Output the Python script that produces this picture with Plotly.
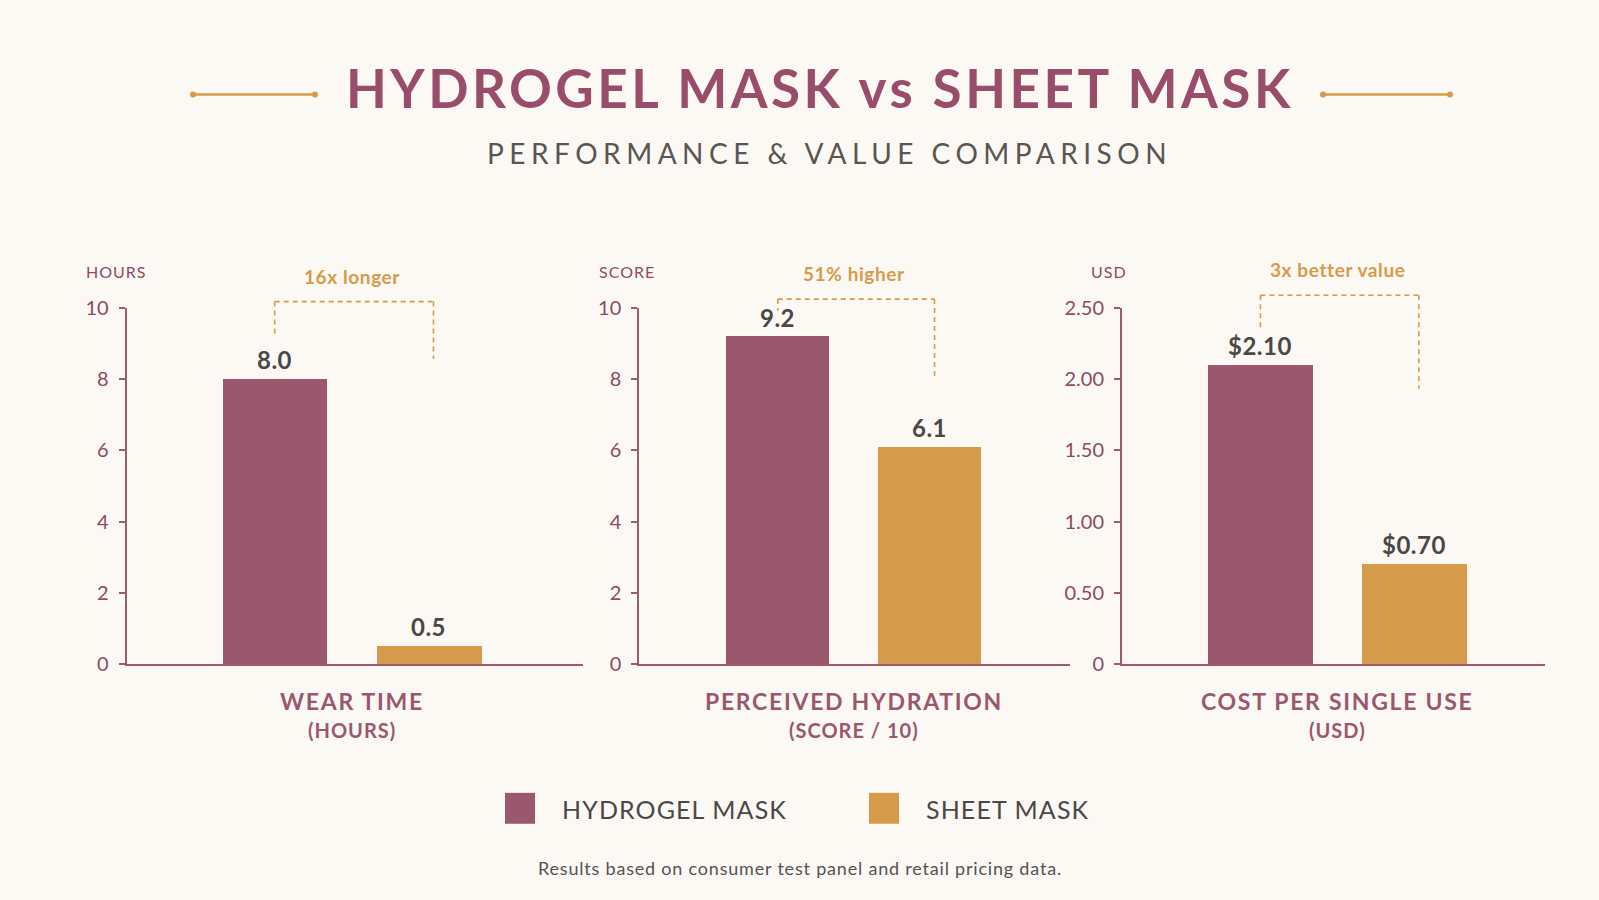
import plotly.graph_objects as go

# ---------------- data ----------------
series_names = ["HYDROGEL MASK", "SHEET MASK"]
categories = ["Hydrogel Mask", "Sheet Mask"]
metric_titles = ["WEAR TIME", "PERCEIVED HYDRATION", "COST PER SINGLE USE"]
metric_units = ["(HOURS)", "(SCORE / 10)", "(USD)"]
axis_units = ["HOURS", "SCORE", "USD"]
wear_time_hours = [8.0, 0.5]
hydration_score = [9.2, 6.1]
cost_per_use_usd = [2.10, 0.70]
callouts = ["16x longer", "51% higher", "3x better value"]
ticks_hours = [0, 2, 4, 6, 8, 10]
ticks_score = [0, 2, 4, 6, 8, 10]
ticks_usd = [0, 0.5, 1.0, 1.5, 2.0, 2.5]
ticks_usd_text = ["0", "0.50", "1.00", "1.50", "2.00", "2.50"]

# ---------------- style ----------------
W, H = 1599, 900
BG = "#fcf9f4"
MAROON = "#9b576e"
GOLD = "#d69b4a"
AXIS = "#9a5a70"
TICKTXT = "#8c4a63"
DARK = "#4a4846"
FONT = "Lato"


def px(x):
    return x / W


def py(y):
    # screen y (px) -> paper fraction
    return 1 - ((y - 11.26) / 0.9757) / H


def sp(text, ls):
    return '<span style="letter-spacing:%spx">%s</span>' % (ls, text)


panels = [
    dict(values=wear_time_hours, fmt="{:.1f}", ymax=10, tickvals=ticks_hours,
         ticktext=[str(t) for t in ticks_hours], dom=(126.7, 583), xr=(-0.96, 2.0),
         bracket=(1.018, 0.927, 0.857), unit_x=84),
    dict(values=hydration_score, fmt="{:.1f}", ymax=10, tickvals=ticks_score,
         ticktext=[str(t) for t in ticks_score], dom=(639.3, 1070), xr=(-0.91, 1.92),
         bracket=(1.025, 0.992, 0.807), unit_x=597),
    dict(values=cost_per_use_usd, fmt="${:.2f}", ymax=2.5, tickvals=ticks_usd,
         ticktext=ticks_usd_text, dom=(1122, 1545), xr=(-0.90, 1.85),
         bracket=(1.036, 0.941, 0.773), unit_x=1089),
]

colors = [MAROON, GOLD]
ydom = [py(664), py(307)]

fig = go.Figure()
shapes = []
annotations = []
layout_axes = {}

for i, p in enumerate(panels):
    n = "" if i == 0 else str(i + 1)
    xa, ya = "x" + n, "y" + n
    fig.add_trace(go.Bar(
        x=categories, y=p["values"], marker=dict(color=colors, line=dict(width=0)),
        width=0.68, xaxis=xa, yaxis=ya, showlegend=False, hoverinfo="x+y",
    ))
    layout_axes["xaxis" + n] = dict(
        domain=[px(p["dom"][0]), px(p["dom"][1])], anchor=ya, type="category",
        range=list(p["xr"]), showticklabels=False, ticks="", showgrid=False,
        zeroline=False, showline=True, linecolor=AXIS, linewidth=2, fixedrange=True,
    )
    layout_axes["yaxis" + n] = dict(
        domain=ydom, anchor=xa, range=[0, p["ymax"]], tickvals=p["tickvals"],
        ticktext=p["ticktext"], showgrid=False, zeroline=False, showline=True,
        linecolor=AXIS, linewidth=2, ticks="outside", ticklen=6, tickwidth=1.5,
        tickcolor=AXIS, tickfont=dict(family=FONT, size=20, color=TICKTXT),
        ticklabelstandoff=6, fixedrange=True,
    )
    # value labels
    for j, v in enumerate(p["values"]):
        annotations.append(dict(
            x=j, y=v, xref=xa, yref=ya, text=sp(p["fmt"].format(v), 0.5), showarrow=False,
            yanchor="bottom", yshift=3,
            font=dict(family=FONT, size=24, color=DARK, weight="bold"),
        ))
    # bracket (in axis-domain fractions)
    top, lft, rgt = p["bracket"]
    yd = ya + " domain"
    dash = dict(color=GOLD, width=1.6, dash="5px,4px")
    shapes.append(dict(type="line", xref=xa, yref=yd, x0=0, x1=1.03, y0=top, y1=top, line=dash))
    shapes.append(dict(type="line", xref=xa, yref=yd, x0=0, x1=0, y0=top, y1=lft, line=dash))
    shapes.append(dict(type="line", xref=xa, yref=yd, x0=1.03, x1=1.03, y0=top, y1=rgt, line=dash))
    annotations.append(dict(
        x=0.5, y=top, xref=xa, yref=yd, text=sp(callouts[i], 0.6), showarrow=False,
        yanchor="bottom", yshift=12,
        font=dict(family=FONT, size=19, color=GOLD, weight="bold"),
    ))
    # unit label above axis
    annotations.append(dict(
        x=px(p["unit_x"]), y=py(270), xref="paper", yref="paper", text=sp(axis_units[i], 1),
        showarrow=False, xanchor="left", yanchor="middle",
        font=dict(family=FONT, size=16, color=TICKTXT),
    ))
    # category titles
    annotations.append(dict(
        x=0.5, y=py(701), xref=xa, yref="paper", text=sp(metric_titles[i], 1.7), showarrow=False,
        xanchor="center", yanchor="middle",
        font=dict(family=FONT, size=23, color=MAROON, weight="bold"),
    ))
    annotations.append(dict(
        x=0.5, y=py(730), xref=xa, yref="paper", text=sp(metric_units[i], 1), showarrow=False,
        xanchor="center", yanchor="middle",
        font=dict(family=FONT, size=20, color=MAROON, weight="bold"),
    ))

# title + decorations
annotations.append(dict(
    x=px(820), y=py(86), xref="paper", yref="paper",
    text=sp("HYDROGEL MASK vs SHEET MASK", 3.5), showarrow=False,
    xanchor="center", yanchor="middle",
    font=dict(family=FONT, size=53, color="#9a4d6b", weight="bold"),
))
annotations.append(dict(
    x=px(830), y=py(152), xref="paper", yref="paper",
    text=sp("PERFORMANCE &amp; VALUE COMPARISON", 5.5), showarrow=False,
    xanchor="center", yanchor="middle",
    font=dict(family=FONT, size=28, color="#5a5550"),
))
for x0, x1 in [(193, 315), (1323, 1450)]:
    shapes.append(dict(type="line", xref="paper", yref="paper", x0=px(x0), x1=px(x1),
                       y0=py(93), y1=py(93), line=dict(color=GOLD, width=2.5)))
    for xc in (x0, x1):
        shapes.append(dict(type="circle", xref="paper", yref="paper",
                           x0=px(xc - 3), x1=px(xc + 3), y0=py(96), y1=py(90),
                           fillcolor=GOLD, line=dict(width=0)))

# legend (manual)
legend_pos = [(505, 560), (869, 924)]
for k, (sx, tx) in enumerate(legend_pos):
    shapes.append(dict(type="rect", xref="paper", yref="paper", x0=px(sx), x1=px(sx + 30),
                       y0=py(824), y1=py(793), fillcolor=colors[k], line=dict(width=0)))
    annotations.append(dict(
        x=px(tx), y=py(809), xref="paper", yref="paper", text=sp(series_names[k], 1.1),
        showarrow=False, xanchor="left", yanchor="middle",
        font=dict(family=FONT, size=25, color=DARK),
    ))

annotations.append(dict(
    x=px(800), y=py(868), xref="paper", yref="paper",
    text=sp("Results based on consumer test panel and retail pricing data.", 0.8),
    showarrow=False, xanchor="center", yanchor="middle",
    font=dict(family=FONT, size=18, color="#555250"),
))

fig.update_layout(
    width=W, height=H, paper_bgcolor=BG, plot_bgcolor=BG,
    margin=dict(l=0, r=0, t=0, b=0), showlegend=False,
    shapes=shapes, annotations=annotations, bargap=0,
    **layout_axes,
)

fig.write_html("out.html", config={"displayModeBar": False})
